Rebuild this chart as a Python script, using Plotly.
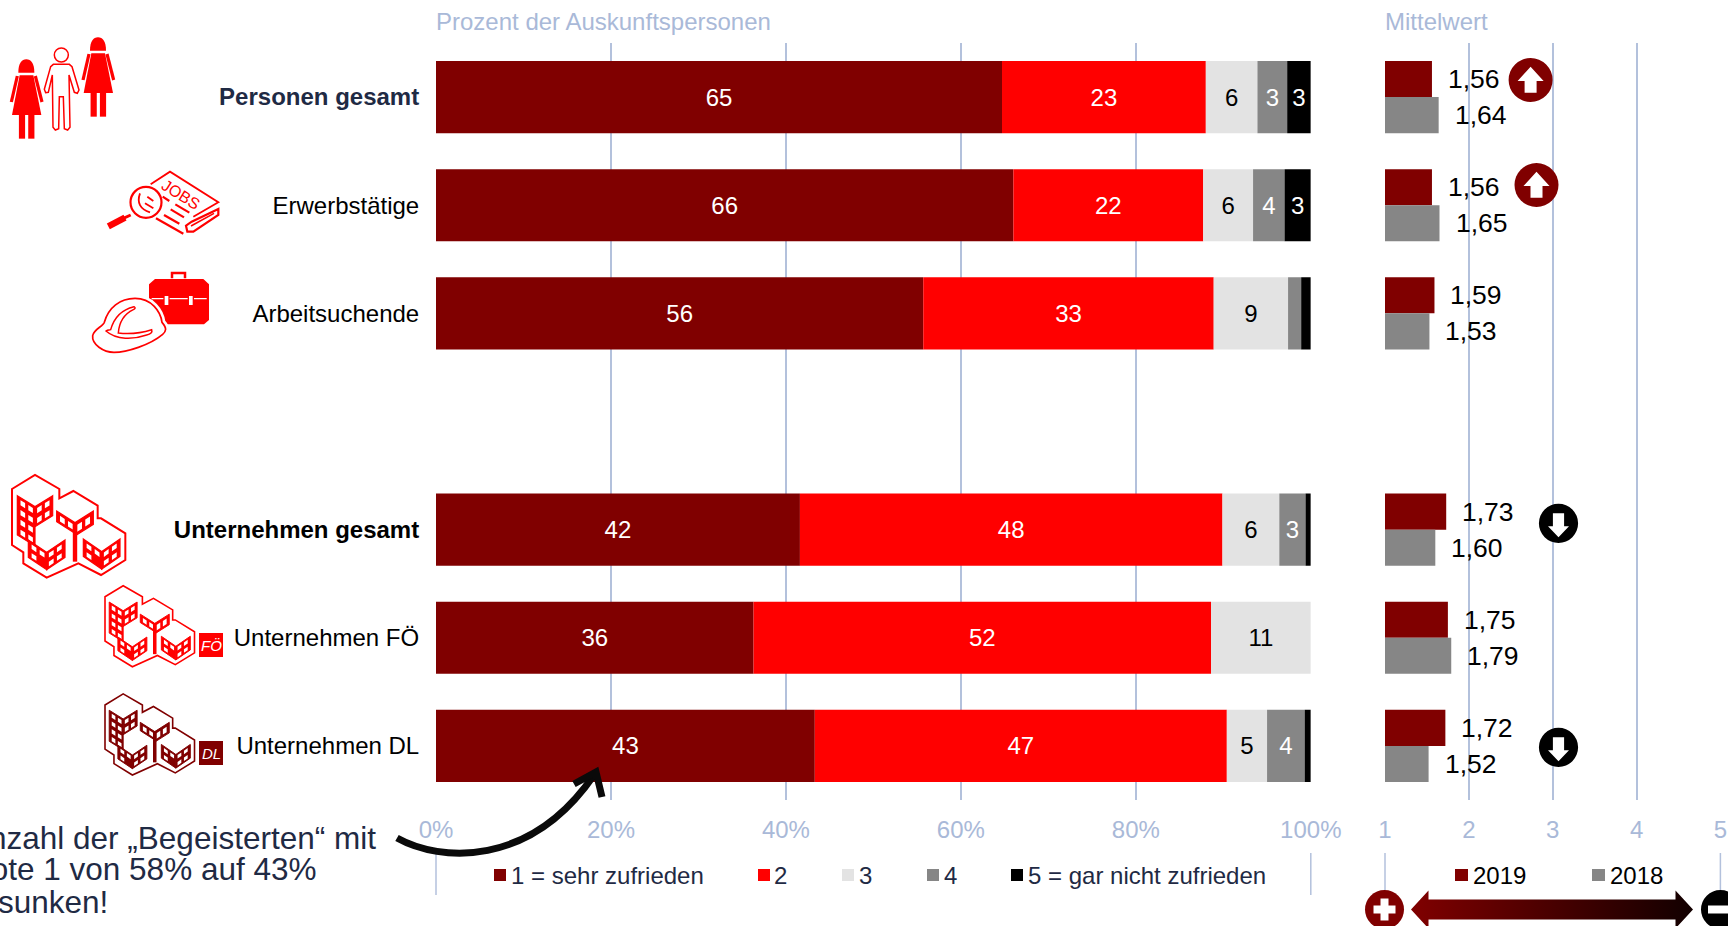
import numpy as np
import plotly.graph_objects as go

# ---------- data ----------
categories = ["Personen gesamt", "Erwerbstätige", "Arbeitsuchende",
              "Unternehmen gesamt", "Unternehmen FÖ", "Unternehmen DL"]
axis_categories = categories[:3] + [" "] + categories[3:]
tick_texts = ['<b><span style="color:#1f2a44">Personen gesamt</span></b>', "Erwerbstätige", "Arbeitsuchende", " ",
              "<b>Unternehmen gesamt</b>", "Unternehmen FÖ", "Unternehmen DL"]

note_1 = [64.7, 66.0, 55.7, 41.6, 36.3, 43.3]
note_2 = [23.3, 21.7, 33.2, 48.3, 52.3, 47.1]
note_3 = [5.9, 5.7, 8.5, 6.5, 11.4, 4.6]
note_4 = [3.4, 3.6, 1.5, 3.0, 0.0, 4.3]
note_5 = [2.7, 3.0, 1.1, 0.6, 0.0, 0.7]
labels_1 = ["65", "66", "56", "42", "36", "43"]
labels_2 = ["23", "22", "33", "48", "52", "47"]
labels_3 = ["6", "6", "9", "6", "11", "5"]
labels_4 = ["3", "4", "", "3", "", "4"]
labels_5 = ["3", "3", "", "", "", ""]
mean_2019 = [1.56, 1.56, 1.59, 1.73, 1.75, 1.72]
mean_2018 = [1.64, 1.65, 1.53, 1.60, 1.79, 1.52]
pct_ticks = [0, 20, 40, 60, 80, 100]
pct_ticklabels = ["0%", "20%", "40%", "60%", "80%", "100%"]
mean_ticks = [1, 2, 3, 4, 5]
mean_ticklabels = ["1", "2", "3", "4", "5"]
legend_left = ["1 = sehr zufrieden", "2", "3", "4", "5 = gar nicht zufrieden"]
legend_right = ["2019", "2018"]

# ---------- style ----------
W, H = 1728, 926
DARK, RED, LIGHT, GREY, BLACK = "#800000", "#ff0000", "#e3e3e3", "#868686", "#000000"
GRID, AXT, NAVY = "#b3c1dc", "#a9b9d8", "#1f2a44"
FONT = "Liberation Sans, Arial, sans-serif"
FS = 24
AX_TOP, AX_BOT = 43, 800
X0, X100 = 436, 1310.8
M1, M5 = 1385, 1720.4
ydom = [1 - AX_BOT / H, 1 - AX_TOP / H]

fig = go.Figure()
series = [(note_1, labels_1, DARK, "white"), (note_2, labels_2, RED, "white"),
          (note_3, labels_3, LIGHT, "black"), (note_4, labels_4, GREY, "white"),
          (note_5, labels_5, BLACK, "white")]
base = np.zeros(len(categories))
for vals, labs, col, tcol in series:
    fig.add_trace(go.Bar(x=vals, y=categories, base=base.tolist(), orientation="h", width=0.667,
                         marker=dict(color=col, line=dict(width=0)), text=labs, textposition="inside",
                         insidetextanchor="middle", constraintext="none", textangle=0,
                         textfont=dict(family=FONT, size=FS, color=tcol), xaxis="x", yaxis="y",
                         showlegend=False))
    base = base + np.array(vals)

for vals, col, off in [(mean_2019, DARK, -0.3335), (mean_2018, GREY, 0.0)]:
    fig.add_trace(go.Bar(x=vals, y=categories, orientation="h", width=0.3335, offset=off,
                         marker=dict(color=col, line=dict(width=0)), xaxis="x2", yaxis="y2",
                         showlegend=False))

# gradient arrow on the pixel overlay
cy = 909.5
arrow_x = [1411, 1428.5, 1428.5, 1675.5, 1675.5, 1693, 1675.5, 1675.5, 1428.5, 1428.5, 1411]
arrow_y = [cy, cy - 19, cy - 10, cy - 10, cy - 19, cy, cy + 19, cy + 10, cy + 10, cy + 19, cy]
fig.add_trace(go.Scatter(x=arrow_x, y=arrow_y, mode="lines", line=dict(width=0), fill="toself",
                         fillgradient=dict(type="horizontal", colorscale=[[0, DARK], [1, "#120000"]]),
                         xaxis="x3", yaxis="y3", showlegend=False, hoverinfo="skip"))

shapes, annos = [], []


def path(d, fill=None, line=None, lw=0):
    s = dict(type="path", path=d, xref="x3", yref="y3", layer="above",
             line=dict(color=line or "rgba(0,0,0,0)", width=lw))
    if fill:
        s["fillcolor"] = fill
    shapes.append(s)


def poly(pts, close=True):
    return "M " + " L ".join(f"{x:.2f} {y:.2f}" for x, y in pts) + (" Z" if close else "")


def xf(ox, oy, s):
    return lambda pts: [(ox + x * s, oy + y * s) for x, y in pts]


def circle(cx, cy, r, fill=None, line=None, lw=0):
    shapes.append(dict(type="circle", x0=cx - r, x1=cx + r, y0=cy - r, y1=cy + r, xref="x3", yref="y3",
                       layer="above", fillcolor=fill or "rgba(0,0,0,0)",
                       line=dict(color=line or "rgba(0,0,0,0)", width=lw)))


def rect(x0, y0, x1, y1, fill):
    shapes.append(dict(type="rect", x0=x0, x1=x1, y0=y0, y1=y1, xref="x3", yref="y3", layer="above",
                       fillcolor=fill, line=dict(width=0)))


def text(x, y, t, size=FS, color="black", anchor="left", angle=0, **kw):
    annos.append(dict(x=x, y=y, text=t, xref="x3", yref="y3", xanchor=anchor, yanchor="middle",
                      showarrow=False, textangle=angle, borderpad=0,
                      font=dict(family=FONT, size=size, color=color), **kw))


# axis headers
text(X0 - 1, 21, "Prozent der Auskunftspersonen", color=AXT)
text(M1 - 1, 21, "Mittelwert", color=AXT)

# lower separators
for x, y1 in [(X0, 895), (X100, 895), (M1, 892), (M5, 892)]:
    shapes.append(dict(type="line", x0=x, x1=x, y0=853, y1=y1, xref="x3", yref="y3", layer="below",
                       line=dict(color=GRID, width=1.5)))

# legends
for (t, sq, tx), col in zip(zip(legend_left, [494, 758, 842, 927, 1011], [510, 773, 858, 943, 1027]),
                            [DARK, RED, LIGHT, GREY, BLACK]):
    rect(sq, 869, sq + 12, 881, col)
    text(tx, 875, t, color=NAVY)
for (t, sq, tx), col in zip(zip(legend_right, [1455, 1592], [1472, 1609]), [DARK, GREY]):
    rect(sq, 869, sq + 13, 881, col)
    text(tx, 875, t, color="black")

# note text and curved arrow
text(377, 838, "Anzahl der „Begeisterten“ mit", size=31.5, color=NAVY, anchor="right")
text(317, 869, "Note 1 von 58% auf 43%", size=31.5, color=NAVY, anchor="right")
text(109, 902, "gesunken!", size=31.5, color=NAVY, anchor="right")
path("M 397 838 C 440 862 530 868 594 775", line="#0a0a0a", lw=7)
path("M 574 784 L 596 772 L 602 797", line="#0a0a0a", lw=7)

# trend circles
for cx, cy_ in [(1530.6, 80), (1536.5, 185)]:
    circle(cx, cy_, 22, fill=DARK)
    path(poly([(cx, cy_ - 13.3), (cx + 13, cy_ + 1), (cx + 6, cy_ + 1), (cx + 6, cy_ + 12.7),
               (cx - 6, cy_ + 12.7), (cx - 6, cy_ + 1), (cx - 13, cy_ + 1)]), fill="white")
for cx, cy_ in [(1558.5, 523.3), (1558.5, 747.3)]:
    circle(cx, cy_, 19.6, fill="black")
    path(poly([(cx, cy_ + 14), (cx + 10.5, cy_ + 3), (cx + 5.6, cy_ + 3), (cx + 5.6, cy_ - 10),
               (cx - 5.6, cy_ - 10), (cx - 5.6, cy_ + 3), (cx - 10.5, cy_ + 3)]), fill="white")

# plus / minus
circle(1384.5, cy, 19.5, fill=DARK)
rect(1373.5, cy - 4, 1395.5, cy + 4, "white")
rect(1380.5, cy - 11, 1388.5, cy + 11, "white")
circle(1720.5, cy, 19.5, fill="black")
rect(1708, cy - 4, 1733, cy + 4, "white")


# ---------- icons ----------
def woman(dx, dy):
    t = xf(dx / 3, (30 * 3 + dy) / 3, 1 / 3)
    path("M %.2f %.2f C %.2f %.2f %.2f %.2f %.2f %.2f C %.2f %.2f %.2f %.2f %.2f %.2f Z" % (
        *t([(55, 128)])[0], *t([(55, 100)])[0], *t([(65, 88)])[0], *t([(79, 88)])[0],
        *t([(93, 88)])[0], *t([(103, 100)])[0], *t([(103, 128)])[0]), fill=RED)
    path(poly(t([(59, 136), (100, 136), (124, 255), (36, 255)])), fill=RED)
    path(poly(t([(52, 138), (34, 216)]), False), line=RED, lw=3.2)
    path(poly(t([(106, 138), (126, 216)]), False), line=RED, lw=3.2)
    path(poly(t([(66, 250), (66, 326)]), False), line=RED, lw=6.2)
    path(poly(t([(94, 250), (94, 326)]), False), line=RED, lw=6.2)


woman(0, 0)
woman(215, -66)
tm = xf(0, 30, 1 / 3)
circle(*tm([(184, 75)])[0], 7, line=RED, lw=1.5)
path(poly(tm([(160, 103), (208, 103), (216, 110), (237, 180), (232, 190), (223, 187), (207, 135), (210, 292),
              (203, 300), (193, 296), (190, 200), (178, 200), (176, 296), (166, 300), (159, 292), (157, 135),
              (145, 187), (137, 188), (133, 178), (152, 110)])), fill="white", line=RED, lw=1.5)

# jobs newspaper
tj = xf(90, 165, 1 / 3)
path(poly(tj([(182, 58), (240, 20), (385, 112), (310, 155)]), False), line=RED, lw=1.8)
path(poly(tj([(385, 132), (385, 150), (310, 200), (292, 200), (288, 182), (305, 170), (385, 132)])), line=RED, lw=2.2)
path(poly(tj([(303, 183), (372, 145)]), False), line=RED, lw=1.6)
for a, b in [((256, 118), (298, 143)), ((242, 133), (282, 157)), ((222, 150), (268, 176)), ((198, 160), (280, 206)),
             ((218, 95), (238, 108))]:
    path(poly(tj([a, b]), False), line=RED, lw=2.2)
circle(*tj([(168, 112)])[0], 15.5, fill="white", line=RED, lw=2.2)
path(poly(tj([(122, 150), (100, 160)]), False), line=RED, lw=3)
path(poly(tj([(105, 158), (55, 184)]), False), line=RED, lw=6.5)
path(poly(tj([(165, 115), (190, 130)]), False), line=RED, lw=1.8)
path(poly(tj([(172, 95), (190, 108)]), False), line=RED, lw=1.8)
x_, y_ = tj([(150, 85)])[0]
x2_, y2_ = tj([(180, 142)])[0]
path(f"M {x_} {y_} Q {x_ - 5} {y_ + 14} {x2_} {y2_}", line=RED, lw=1.8)
text(*tj([(272, 88)])[0], "JOBS", size=16, color=RED, anchor="center", angle=32)

# helmet + briefcase
th = xf(80, 265, 1 / 3)
path(poly(th([(225, 42), (370, 42), (387, 58), (387, 165), (372, 178), (225, 178), (207, 100), (207, 58)])), fill=RED)
path(poly(th([(276, 40), (276, 24), (315, 24), (315, 40)]), False), line=RED, lw=2.5)
path(poly(th([(215, 101), (380, 101)]), False), line="white", lw=1.2)
for x in (252, 325):
    shapes.append(dict(type="rect", x0=th([(x, 0)])[0][0], x1=th([(x + 15, 0)])[0][0], y0=th([(0, 91)])[0][1],
                       y1=th([(0, 122)])[0][1], xref="x3", yref="y3", layer="above", fillcolor="white",
                       line=dict(color=RED, width=1.3)))


def curve(start, segs):
    s = th([start])[0]
    d = f"M {s[0]:.2f} {s[1]:.2f}"
    for a, b, c in segs:
        p = th([a, b, c])
        d += " C " + " ".join(f"{x:.2f} {y:.2f}" for x, y in p)
    return d + " Z"


helmet = curve((38, 212), [((42, 192), (68, 185), (73, 172)), ((85, 128), (120, 100), (165, 100)),
                           ((215, 100), (242, 140), (246, 172)), ((262, 190), (258, 200), (248, 208)),
                           ((210, 240), (140, 262), (102, 262)), ((70, 262), (35, 238), (38, 212))])
path(helmet, fill="white", line="white", lw=7)
path(helmet, fill="white", line=RED, lw=1.7)
path(curve((78, 198), [((84, 194), (88, 196), (92, 194)), ((100, 165), (120, 135), (162, 125)),
                       ((168, 128), (165, 132), (160, 134)), ((135, 146), (118, 165), (115, 204)),
                       ((150, 208), (190, 202), (215, 194)), ((218, 202), (212, 207), (200, 210)),
                       ((160, 224), (110, 226), (78, 198))]), fill="white", line=RED, lw=1.5)


# buildings
def building(ox, oy, s, col, lw):
    t = lambda pts: [(ox + (x - 36) * s, oy + (y - 30) * s) for x, y in pts]
    outline = [(36, 72), (105, 30), (178, 72), (178, 100), (220, 78), (293, 122), (293, 160), (303, 160),
               (376, 205), (376, 285), (303, 330), (235, 295), (140, 338), (70, 295), (70, 262), (36, 240)]
    path(poly(t(outline)), line=col, lw=lw)
    groups = [(105, 92, 53, 33, 118, 60, 2, 4), (225, 138, 55, 35, 32, 40, 2, 1),
              (140, 225, 55, 37, 52, 52, 2, 2), (305, 222, 55, 38, 52, 52, 2, 2)]
    for g, (cx, y0, w, d, hl, hr, nc, nr) in enumerate(groups):
        left = [(cx - w, y0), (cx, y0 + d), (cx, y0 + d + hl), (cx - w, y0 + hl)]
        right = [(cx + w, y0), (cx, y0 + d), (cx, y0 + d + hr), (cx + w, y0 + hr)]
        path(poly(t(left)), fill=col, line=col, lw=lw * 0.6)
        path(poly(t(right)), fill=col, line=col, lw=lw * 0.6)
        for sign, hh, rows in [(-1, hl, nr), (1, hr, max(1, min(nr, int(hr // 24))))]:
            for i in range(nc):
                for j in range(rows):
                    if g >= 2 and sign == -1 and i == 0 and j == 1:
                        continue
                    u0, u1 = 0.12 + i * 0.44, 0.12 + i * 0.44 + 0.26
                    v0, v1 = (j + 0.26) / rows, (j + 0.78) / rows
                    q = []
                    for u, v in [(u0, v0), (u1, v0), (u1, v1), (u0, v1)]:
                        px = cx + sign * w * u
                        py = y0 + d * (1 - u) + hh * v
                        q.append((px, py))
                    path(poly(t(q)), fill="white")
    # central column of the middle block
    path(poly(t([(225, 172), (225, 290)]), False), line=col, lw=lw * 2.2)


building(12, 475, 1 / 3, RED, 2.0)
building(105, 585.7, 0.2633, RED, 1.6)
building(105, 693.9, 0.2633, DARK, 1.6)
for yc, col, t in [(645, RED, "FÖ"), (753, DARK, "DL")]:
    shapes.append(dict(type="rect", x0=199, x1=223, y0=yc - 12, y1=yc + 12, xref="x3", yref="y3", layer="above",
                       fillcolor=col, line=dict(width=0)))
    text(211, yc, f"<i>{t}</i>", size=15, color="white", anchor="center")

# value labels of the mean chart
for cat, a, b in zip(categories, mean_2019, mean_2018):
    for v, sh in [(a, 18), (b, -18)]:
        annos.append(dict(x=v, y=cat, xref="x2", yref="y2", xanchor="left", yanchor="middle", xshift=15, yshift=sh,
                          text=f"{v:.2f}".replace(".", ","), showarrow=False, borderpad=0,
                          font=dict(family=FONT, size=26.5, color="black")))

common_y = dict(type="category", categoryorder="array", categoryarray=axis_categories, range=[6.5, -0.5],
                domain=ydom, showgrid=False, zeroline=False, showline=False, fixedrange=True, automargin=False)
fig.update_layout(
    width=W, height=H, margin=dict(l=0, r=0, t=0, b=0, autoexpand=False), paper_bgcolor="white", plot_bgcolor="rgba(0,0,0,0)",
    barmode="overlay", font=dict(family=FONT, size=FS), shapes=shapes, annotations=annos, hovermode=False,
    xaxis=dict(domain=[X0 / W, X100 / W], range=[0, 100], tickvals=pct_ticks, ticktext=pct_ticklabels, automargin=False,
               showgrid=True, gridcolor=GRID, gridwidth=1.5, zeroline=False, showline=False, anchor="y",
               ticks="outside", ticklen=8, tickcolor="rgba(0,0,0,0)", tickfont=dict(color=AXT, size=FS, family=FONT)),
    yaxis=dict(**common_y, anchor="x", tickmode="array", tickvals=axis_categories, ticktext=tick_texts,
               ticks="outside", ticklen=11, tickcolor="rgba(0,0,0,0)", tickfont=dict(color="black", size=FS, family=FONT)),
    xaxis2=dict(domain=[M1 / W, M5 / W], range=[1, 5], tickvals=mean_ticks, ticktext=mean_ticklabels, automargin=False,
                showgrid=True, gridcolor=GRID, gridwidth=1.5, zeroline=False, showline=False, anchor="y2",
                ticks="outside", ticklen=8, tickcolor="rgba(0,0,0,0)", tickfont=dict(color=AXT, size=FS, family=FONT)),
    yaxis2=dict(**common_y, anchor="x2", showticklabels=False),
    xaxis3=dict(domain=[0, 1], range=[0, W], visible=False, anchor="y3", fixedrange=True, automargin=False),
    yaxis3=dict(domain=[0, 1], range=[H, 0], visible=False, anchor="x3", fixedrange=True, automargin=False),
)
fig.write_html("out.html", config={"displayModeBar": False},
               post_script="document.body.style.margin='0';document.documentElement.style.overflow='hidden';")
